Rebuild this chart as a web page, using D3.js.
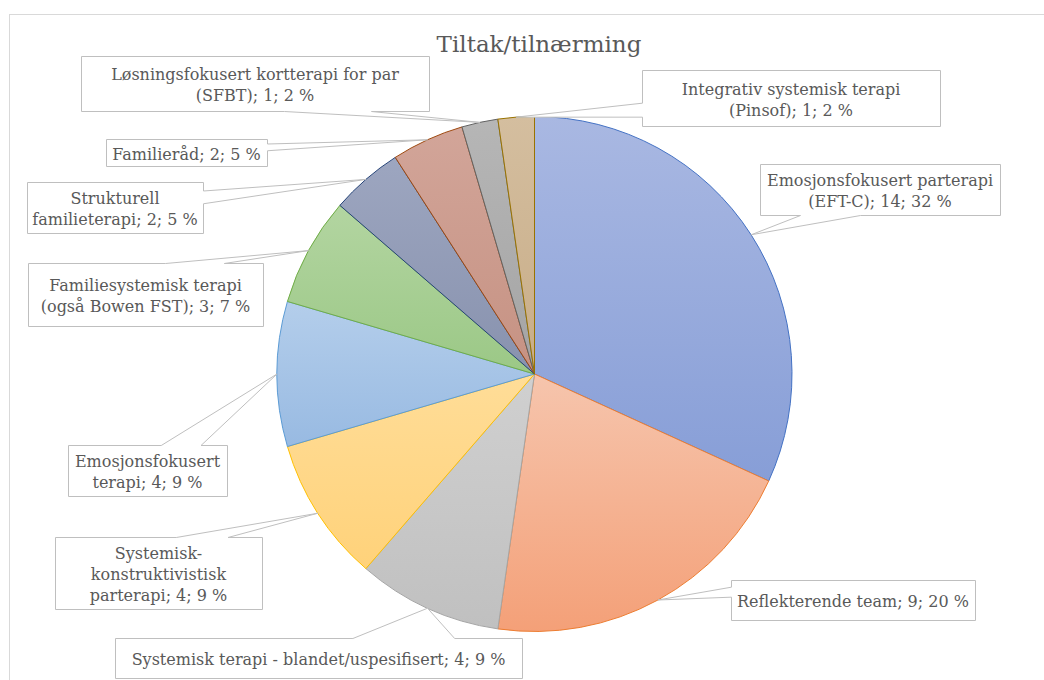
<!DOCTYPE html>
<meta charset="utf-8">
<head>
  <title>Tiltak/tilnærming</title>
</head>

<style>
body { margin: 0; background: white; }
text {
  font-family: "DejaVu Serif", "Liberation Serif", serif;
  fill: #595959;
}
.frame { fill: none; stroke: #d9d9d9; }
.callout { fill: white; stroke: #bfbfbf; stroke-width: 1; }
.label { font-size: 16px; }
.title { font-size: 23px; }
</style>

<body>
  <svg width="1044" height="680"></svg>

  <script src="https://cdnjs.cloudflare.com/ajax/libs/d3/7.8.5/d3.min.js"></script>
  <script>
// categories ("\n" marks where the label wraps)
var categories = [
  "Emosjonsfokusert parterapi\n(EFT-C)",
  "Reflekterende team",
  "Systemisk terapi - blandet/uspesifisert",
  "Systemisk-\nkonstruktivistisk\nparterapi",
  "Emosjonsfokusert\nterapi",
  "Familiesystemisk terapi\n(også Bowen FST)",
  "Strukturell\nfamilieterapi",
  "Familieråd",
  "Løsningsfokusert kortterapi for par\n(SFBT)",
  "Integrativ systemisk terapi\n(Pinsof)"
];
var values = [14, 9, 4, 4, 4, 3, 2, 2, 1, 1];

// label boxes as placed in the original chart: [x, y, w, h]
var boxes = [
  [760, 164, 240, 51],
  [731, 580, 244, 40],
  [115, 638, 407, 40],
  [55, 537, 207, 72],
  [68, 445, 159, 51],
  [28, 263, 235, 63],
  [27, 182, 176, 51],
  [106, 139, 161, 27],
  [81, 56, 348, 55],
  [642, 70, 298, 56]
];

var lineColors = ["#4472c4", "#ed7d31", "#a5a5a5", "#ffc000", "#5b9bd5",
                  "#70ad47", "#264478", "#9e480e", "#636363", "#997300"];
var topColors = ["#a9b8e2", "#f6c5ad", "#d0d0d0", "#ffdd98", "#b4ceeb",
                 "#b3d5a1", "#9da6c0", "#d2a599", "#b6b6b6", "#d4be9f"];
var bottomColors = ["#879ed7", "#f4a078", "#c0c0c0", "#ffd27a", "#98bae2",
                    "#9bc886", "#8892ae", "#c69283", "#a4a4a4", "#c8ad88"];

var cx = 534.5, cy = 374, radius = 257.5;

var svg = d3.select('svg');

svg.append('rect')
  .attr('class', 'frame')
  .attr('x', 9.5)
  .attr('y', 14.5)
  .attr('width', 1100)
  .attr('height', 700);

svg.append('text')
  .attr('class', 'title')
  .attr('x', 539)
  .attr('y', 52)
  .attr('text-anchor', 'middle')
  .text('Tiltak/tilnærming');

var total = d3.sum(values);
var data = values.map(function(v, i) { return {name: categories[i], value: v, i: i}; });

var pie = d3.pie()
  .sort(null)
  .value(function(d) { return d.value; });

var arcs = pie(data);

var arc = d3.arc()
  .innerRadius(0)
  .outerRadius(radius);

// one top-to-bottom gradient per slice, over the slice's own box
var defs = svg.append('defs');
arcs.forEach(function(d, i) {
  var g = defs.append('linearGradient')
    .attr('id', 'grad' + i)
    .attr('x1', 0).attr('x2', 0)
    .attr('y1', 0).attr('y2', 1);
  g.append('stop').attr('offset', 0).attr('stop-color', topColors[i]);
  g.append('stop').attr('offset', 1).attr('stop-color', bottomColors[i]);
});

var pieG = svg.append('g')
  .attr('transform', 'translate(' + [cx, cy] + ')');

pieG.selectAll('path')
  .data(arcs)
  .enter()
  .append('path')
  .attr('d', arc)
  .attr('fill', function(d, i) { return 'url(#grad' + i + ')'; })
  .attr('stroke', function(d, i) { return lineColors[i]; })
  .attr('stroke-width', 1);

// rectangle with a pointer towards (tx, ty), same geometry as a wedgeRectCallout
function callout(b, tx, ty) {
  var x = b[0] + 0.5, y = b[1] + 0.5, w = b[2], h = b[3];
  var dxPos = tx - (x + w / 2), dyPos = ty - (y + h / 2);
  var horiz = Math.abs(dxPos * h) > Math.abs(dyPos * w);
  var x1 = x + w * (dxPos > 0 ? 7 : 2) / 12, x2 = x + w * (dxPos > 0 ? 10 : 5) / 12;
  var y1 = y + h * (dyPos > 0 ? 7 : 2) / 12, y2 = y + h * (dyPos > 0 ? 10 : 5) / 12;
  var p = d3.path();
  p.moveTo(x, y);
  if (!horiz && dyPos < 0) { p.lineTo(x1, y); p.lineTo(tx, ty); p.lineTo(x2, y); }
  p.lineTo(x + w, y);
  if (horiz && dxPos > 0) { p.lineTo(x + w, y1); p.lineTo(tx, ty); p.lineTo(x + w, y2); }
  p.lineTo(x + w, y + h);
  if (!horiz && dyPos > 0) { p.lineTo(x2, y + h); p.lineTo(tx, ty); p.lineTo(x1, y + h); }
  p.lineTo(x, y + h);
  if (horiz && dxPos < 0) { p.lineTo(x, y2); p.lineTo(tx, ty); p.lineTo(x, y1); }
  p.closePath();
  return p.toString();
}

var labels = svg.selectAll('g.lab')
  .data(arcs)
  .enter()
  .append('g')
  .attr('class', 'lab');

labels.append('path')
  .attr('class', 'callout')
  .attr('d', function(d, i) {
    var a = (d.startAngle + d.endAngle) / 2;
    var tx = cx + radius * Math.sin(a), ty = cy - radius * Math.cos(a);
    return callout(boxes[i], tx, ty);
  });

labels.append('text')
  .attr('class', 'label')
  .attr('text-anchor', 'middle')
  .each(function(d, i) {
    var pct = Math.round(d.data.value / total * 100);
    var lines = (d.data.name + '; ' + d.data.value + '; ' + pct + ' %').split('\n');
    var b = boxes[i];
    var lh = 21;
    var y0 = b[1] + b[3] / 2 - (lines.length - 1) * lh / 2 + 7;
    d3.select(this).selectAll('tspan')
      .data(lines)
      .enter()
      .append('tspan')
      .attr('x', b[0] + b[2] / 2)
      .attr('y', function(l, k) { return y0 + k * lh; })
      .text(function(l) { return l; });
  });
  </script>
</body>
</html>
